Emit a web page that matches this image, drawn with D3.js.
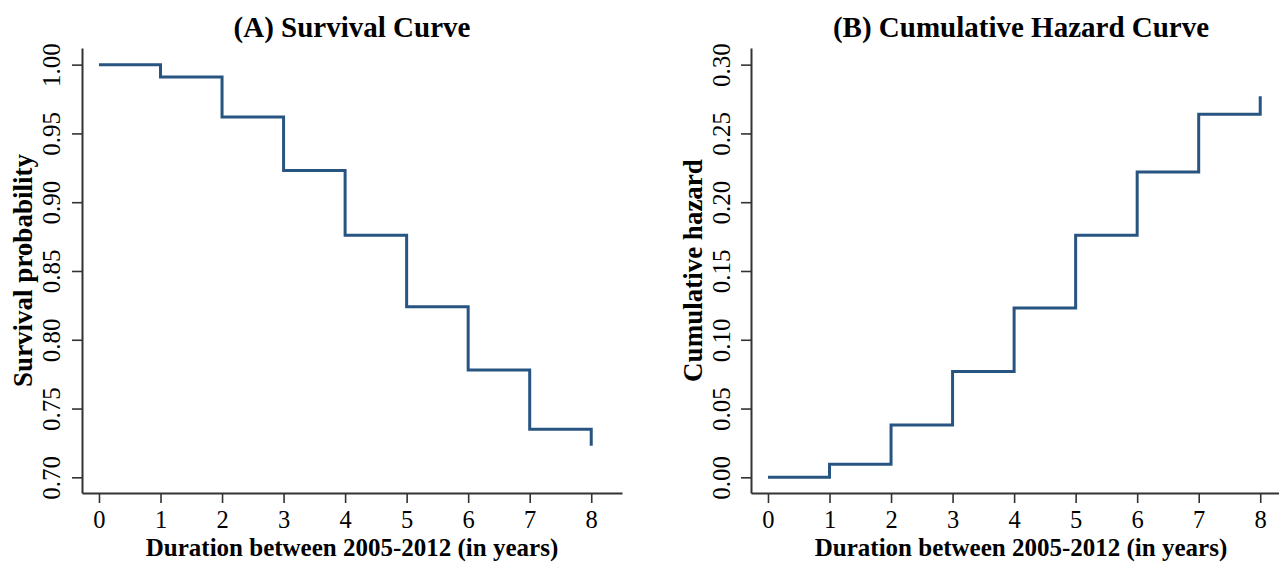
<!DOCTYPE html>
<html>
<head>
<meta charset="utf-8">
<script src="https://cdn.jsdelivr.net/npm/d3@7"></script>
<style>
  html, body { margin: 0; padding: 0; background: #ffffff; }
  svg { display: block; }
  text { font-family: "Liberation Serif", "Times New Roman", serif; fill: #000; }
</style>
</head>
<body>
<svg id="chart" width="1279" height="562"></svg>
<script>
// ---- data ----
const years = [0, 1, 2, 3, 4, 5, 6, 7, 8];
const survival = [1.000, 0.991, 0.962, 0.923, 0.876, 0.824, 0.778, 0.735, 0.723];
const cumHazard = [0.000, 0.0095, 0.038, 0.077, 0.123, 0.176, 0.222, 0.264, 0.277];
const xTicks = [0, 1, 2, 3, 4, 5, 6, 7, 8];
const survivalTicks = [0.70, 0.75, 0.80, 0.85, 0.90, 0.95, 1.00];
const hazardTicks = [0.00, 0.05, 0.10, 0.15, 0.20, 0.25, 0.30];
const titles = ["(A) Survival Curve", "(B) Cumulative Hazard Curve"];
const yTitles = ["Survival probability", "Cumulative hazard"];
const xTitle = "Duration between 2005-2012 (in years)";

const svg = d3.select("#chart");
const lineColor = "#285482";
const axisColor = "#333333";

function drawPanel(opts) {
  const { left, right, top, bottom, xDomain, yDomain, values, yTicks, title, yTitle, yTitleOffset, yLabelOffset } = opts;
  const g = svg.append("g");
  const x = d3.scaleLinear().domain(xDomain).range([left, right]);
  const y = d3.scaleLinear().domain(yDomain).range([bottom, top]);

  // x axis
  const xAxis = g.append("g")
    .attr("transform", `translate(0,${bottom})`)
    .call(d3.axisBottom(x).tickValues(xTicks).tickFormat(d3.format("d")).tickSize(10).tickSizeOuter(0));
  xAxis.selectAll("text")
    .attr("y", 35).attr("dy", 0)
    .style("font-size", "24.5px");

  // y axis
  const yAxis = g.append("g")
    .attr("transform", `translate(${left},0)`)
    .call(d3.axisLeft(y).tickValues(yTicks).tickFormat(d3.format(".2f")).tickSize(10).tickSizeOuter(0));
  yAxis.selectAll("text")
    .attr("x", null).attr("dy", 0)
    .attr("text-anchor", "middle")
    .attr("transform", `translate(${-yLabelOffset},0) rotate(-90)`)
    .style("font-size", "25px");

  [xAxis, yAxis].forEach(a => {
    a.select(".domain").attr("stroke", axisColor).attr("stroke-width", 2);
    a.selectAll(".tick line").attr("stroke", axisColor).attr("stroke-width", 1.6);
    a.attr("font-family", null);
  });

  // step line
  const line = d3.line()
    .x((d, i) => x(years[i]))
    .y(d => y(d))
    .curve(d3.curveStepAfter);
  g.append("path")
    .datum(values)
    .attr("d", line)
    .attr("fill", "none")
    .attr("stroke", lineColor)
    .attr("stroke-width", 3);

  // titles
  g.append("text")
    .attr("x", (left + right) / 2)
    .attr("y", 37)
    .attr("text-anchor", "middle")
    .style("font-size", "29px")
    .style("font-weight", "bold")
    .text(title);

  g.append("text")
    .attr("x", (left + right) / 2)
    .attr("y", 556)
    .attr("text-anchor", "middle")
    .style("font-size", "25px")
    .style("font-weight", "bold")
    .text(xTitle);

  g.append("text")
    .attr("transform", `translate(${left - yTitleOffset},${(top + bottom) / 2}) rotate(-90)`)
    .attr("text-anchor", "middle")
    .style("font-size", "27px")
    .style("font-weight", "bold")
    .text(yTitle);
}

drawPanel({
  left: 82, right: 622, top: 48, bottom: 493,
  xDomain: [-0.276, 8.5], yDomain: [0.6886, 1.0121],
  values: survival, yTicks: survivalTicks, title: titles[0], yTitle: yTitles[0],
  yTitleOffset: 50, yLabelOffset: 22
});

drawPanel({
  left: 751, right: 1291, top: 48, bottom: 493,
  xDomain: [-0.276, 8.5], yDomain: [-0.0114, 0.3121],
  values: cumHazard, yTicks: hazardTicks, title: titles[1], yTitle: yTitles[1],
  yTitleOffset: 49, yLabelOffset: 21
});
</script>
</body>
</html>
